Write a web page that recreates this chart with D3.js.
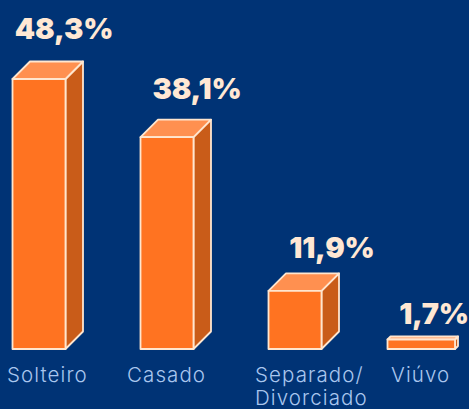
<!DOCTYPE html>
<html><head><meta charset="utf-8">
<script src="https://cdn.jsdelivr.net/npm/d3@7"></script>
<style>html,body{margin:0;padding:0;background:#003375;overflow:hidden}svg{display:block}</style>
</head><body><svg id="c" width="469" height="409"></svg>
<script>
const categories = ["Solteiro", "Casado", "Separado/\nDivorciado", "Viúvo"];
const valueLabels = ["48,3%", "38,1%", "11,9%", "1,7%"];
// Heights as drawn in the picture, expressed in percentage points (not all in proportion to the labels).
const drawnValues = [48.3, 37.9, 10.4, 1.7];

const svg = d3.select("#c");
const y = d3.scaleLinear().domain([0, 48.3]).range([349, 79]);
const left = d3.scaleOrdinal().domain(categories).range([12.5, 140.5, 268.5, 387.5]);
const width = d3.scaleOrdinal().domain(categories).range([53, 53, 53, 67.5]);
const depth = d3.scaleOrdinal().domain(categories).range([17.5, 17.5, 17.5, 3]);
const labelX = d3.scaleOrdinal().domain(categories).range([64, 197, 332, 434]);
const labelY = d3.scaleOrdinal().domain(categories).range([39, 99, 258, 324]);
const catX = d3.scaleOrdinal().domain(categories).range([7, 127, 255, 391]);

const rows = categories.map((c, i) => ({c, v: drawnValues[i], t: valueLabels[i]}));
const stroke = "#FFE6CF";
const poly = pts => pts.map(p => p.join(",")).join(" ");

const g = svg.selectAll("g.bar").data(rows).join("g").attr("class", "bar")
  .attr("stroke", stroke).attr("stroke-width", 1.8).attr("stroke-linejoin", "round");
g.append("polygon").attr("fill", "#C95C19").attr("points", d => {
  const r = left(d.c) + width(d.c), t = y(d.v), b = y(0), k = depth(d.c);
  return poly([[r, t], [r + k, t - k], [r + k, b - k], [r, b]]);
});
g.append("polygon").attr("fill", "#FF9050").attr("points", d => {
  const l = left(d.c), r = l + width(d.c), t = y(d.v), k = depth(d.c);
  return poly([[l, t], [l + k, t - k], [r + k, t - k], [r, t]]);
});
g.append("rect").attr("fill", "#FF7321")
  .attr("x", d => left(d.c)).attr("y", d => y(d.v))
  .attr("width", d => width(d.c)).attr("height", d => y(0) - y(d.v));

svg.selectAll("text.val").data(rows).join("text").attr("class", "val")
  .attr("x", d => labelX(d.c)).attr("y", d => labelY(d.c))
  .attr("text-anchor", "middle").attr("fill", "#FFE8D4")
  .attr("font-family", "Inter, 'Open Sans', sans-serif").attr("font-weight", 900)
  .attr("font-size", 29).attr("letter-spacing", -0.2).text(d => d.t);

const cat = svg.selectAll("text.cat").data(rows).join("text").attr("class", "cat")
  .attr("text-anchor", "start").attr("fill", "#A9C6EE").attr("letter-spacing", 1.1)
  .attr("font-family", "Inter, 'Open Sans', sans-serif").attr("font-weight", 300).attr("font-size", 20.5);
cat.selectAll("tspan").data(d => d.c.split("\n").map(s => ({s, c: d.c}))).join("tspan")
  .attr("x", d => catX(d.c)).attr("y", (d, i) => 382 + i * 23).text(d => d.s);
</script></body></html>
